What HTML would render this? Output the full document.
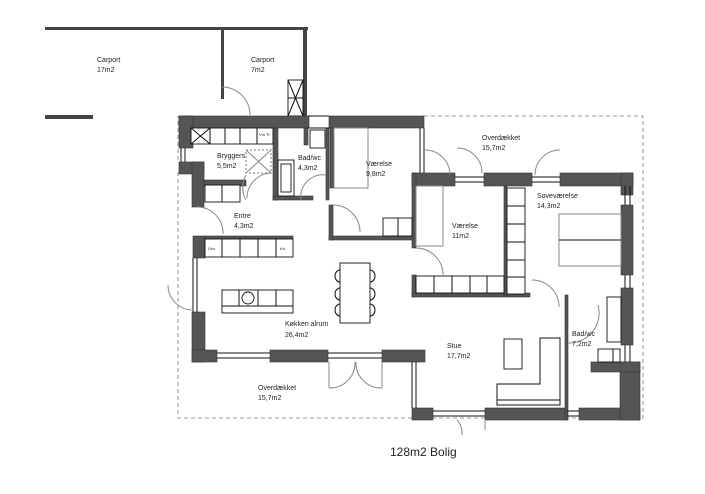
<!DOCTYPE html>
<html><head><meta charset="utf-8"><style>
html,body{margin:0;padding:0;background:#fff;width:705px;height:494px;overflow:hidden}
svg{display:block}
text{font-family:"Liberation Sans",sans-serif;font-size:7px;fill:#222}
.w{fill:#555;stroke:#333;stroke-width:.6}
.l{stroke:#111;stroke-width:1;fill:none}
.g{stroke:#888;stroke-width:1;fill:none}
.d{stroke:#777;stroke-width:.8;fill:none;stroke-dasharray:4,3}
.c{fill:#fff;stroke:#111;stroke-width:.9}
</style></head><body>
<svg width="705" height="494" viewBox="0 0 705 494">
<rect x="45" y="27" width="180" height="3" fill="#444"/>
<rect x="222" y="27" width="86" height="3" fill="#444"/>
<rect x="221" y="27" width="3" height="72" fill="#444"/>
<rect x="303" y="27" width="4" height="89" fill="#444"/>
<rect x="45" y="115" width="48" height="4" fill="#444"/>
<path class="g" d="M222 87 A28 28 0 0 1 250 115"/>
<rect x="288" y="80" width="15" height="36" class="c"/>
<path class="l" d="M288 80 L303 116 M303 80 L288 116 M288 98 H303"/>
<text x="97" y="62">Carport</text><text x="97" y="72">17m2</text>
<text x="251" y="62">Carport</text><text x="251" y="72">7m2</text>
<path class="d" d="M424 116 H643 V418 H433 M412 418 H178 V170"/>
<path class="d" d="M178 160 V116"/>
<rect class="w" x="179" y="116" width="130" height="12"/>
<rect class="w" x="329" y="116" width="95" height="12"/>
<rect class="w" x="179" y="116" width="14" height="32"/>
<rect class="w" x="179" y="162" width="25" height="12"/>
<rect class="w" x="192" y="162" width="12" height="45"/>
<rect class="w" x="204" y="180" width="42" height="6"/>
<rect class="w" x="193" y="236" width="12" height="22"/>
<rect class="w" x="205" y="236" width="88" height="3"/>
<rect class="w" x="192" y="312" width="13" height="50"/>
<rect class="w" x="192" y="350" width="25" height="12"/>
<rect class="w" x="270" y="350" width="58" height="12"/>
<rect class="w" x="382" y="350" width="43" height="12"/>
<rect class="w" x="412" y="408" width="21" height="12"/>
<rect class="w" x="485" y="408" width="82" height="12"/>
<rect class="w" x="579" y="408" width="61" height="12"/>
<rect class="w" x="620" y="362" width="20" height="58"/>
<rect class="w" x="591" y="362" width="49" height="10"/>
<rect class="w" x="565" y="295" width="3" height="125"/>
<rect class="w" x="621" y="288" width="12" height="57"/>
<rect class="w" x="621" y="205" width="12" height="70"/>
<rect class="w" x="560" y="173" width="73" height="13"/>
<rect class="w" x="621" y="173" width="12" height="22"/>
<rect class="w" x="484" y="173" width="48" height="13"/>
<rect class="w" x="412" y="173" width="43" height="13"/>
<rect class="w" x="412" y="173" width="4" height="75"/>
<rect class="w" x="412" y="275" width="4" height="22"/>
<rect class="w" x="412" y="293" width="118" height="4"/>
<rect class="w" x="504" y="186" width="3" height="110"/>
<rect class="w" x="330" y="128" width="4" height="60"/>
<rect class="w" x="329" y="236" width="84" height="4"/>
<rect class="w" x="329" y="205" width="4" height="35"/>
<rect class="w" x="273" y="128" width="5" height="72"/>
<rect class="w" x="273" y="196" width="40" height="4"/>
<rect class="w" x="326" y="128" width="3" height="72"/>
<rect class="w" x="304" y="128" width="4" height="17"/>
<path class="l" d="M181 148 V162 M185 148 V162 M193 258 V312 M197 258 V312 M217 353 H270 M217 358 H270 M328 353 H382 M328 358 H382 M412 362 V408 M416 362 V408 M433 411 H485 M433 416 H485 M567 411 H579 M567 416 H579 M625 186 V205 M630 186 V205 M625 275 V288 M630 275 V288 M625 345 V362 M630 345 V362 M455 177 H484 M455 182 H484 M532 177 H560 M532 182 H560 M420 128 V173 M424 128 V173"/>
<path class="l" d="M308 116 H329 M308 128 H329"/>
<rect x="310" y="130" width="15" height="18" class="c"/>
<rect x="191" y="128" width="82" height="16" class="c"/>
<path class="l" d="M210 128 V144 M225 128 V144 M240 128 V144 M257 128 V144 M191 128 L210 144 M210 128 L191 144"/>
<text x="259" y="136" style="font-size:4px">Vm Tt</text>
<rect x="246" y="150" width="25" height="23" fill="none" stroke="#777" stroke-dasharray="2,2"/>
<path class="g" d="M246 150 L271 173 M271 150 L246 173"/>
<rect x="205" y="185" width="35" height="17" class="c"/><path class="l" d="M222 185 V202"/>
<rect x="205" y="239" width="88" height="18" class="c"/>
<path class="l" d="M222 239 V257 M240 239 V257 M258 239 V257 M276 239 V257"/>
<text x="208" y="250" style="font-size:4px">Ovn</text><text x="280" y="250" style="font-size:4px">Kd</text>
<rect x="222" y="290" width="71" height="23" class="c"/>
<path class="l" d="M222 306 H293 M239 290 V306 M258 290 V306 M276 290 V306"/>
<circle cx="248" cy="298" r="6" class="c"/>
<rect x="340" y="263" width="30" height="60" class="c"/>
<path class="l" d="M340 270 a5 6 0 0 0 0 12 M340 288 a5 6 0 0 0 0 12 M340 304 a5 6 0 0 0 0 12 M370 270 a5 6 0 0 1 0 12 M370 288 a5 6 0 0 1 0 12 M370 304 a5 6 0 0 1 0 12"/>
<rect x="278" y="160" width="16" height="36" class="c"/><rect x="281" y="164" width="10" height="28" class="c"/>
<rect x="334" y="128" width="34" height="60" fill="none" stroke="#888"/>
<rect x="416" y="186" width="27" height="60" fill="none" stroke="#888"/>
<rect x="383" y="218" width="29" height="18" class="c"/><path class="l" d="M398 218 V236"/>
<rect x="416" y="276" width="88" height="17" class="c"/>
<path class="l" d="M434 276 V293 M452 276 V293 M470 276 V293 M487 276 V293"/>
<rect x="507" y="188" width="18" height="106" class="c"/>
<path class="l" d="M507 206 H525 M507 224 H525 M507 242 H525 M507 260 H525 M507 277 H525"/>
<rect x="559" y="214" width="62" height="52" fill="none" stroke="#888"/>
<path class="l" d="M559 240 H621"/>
<rect x="607" y="297" width="14" height="45" class="c"/>
<rect x="598" y="349" width="22" height="13" class="c"/><path class="l" d="M613 349 V362"/>
<rect x="504" y="339" width="18" height="30" class="c"/>
<path class="l" d="M540 338 H560 V405 H497 V384 H540 Z M497 400 H560"/>
<path class="g" d="M246 175 A25 25 0 0 0 246 200 M247 198 A25 25 0 0 1 272 173 M301 200 A22 22 0 0 1 326 175 M333 205 A27 27 0 0 1 360 232 M197 207 A26 26 0 0 1 223 234 M416 248 A27 27 0 0 1 443 275 M532 280 A27 27 0 0 1 559 307 M568 343 A30 30 0 0 0 598 305 M425 150 A25 25 0 0 1 450 175 M457 148 A25 25 0 0 1 482 173 M535 175 A25 25 0 0 1 560 150 M168 285 A25 25 0 0 0 193 310 M329 362 L329 388 M329 388 A25 25 0 0 0 355 362 M382 362 V388 M382 388 A25 25 0 0 1 356 362 M457 420 A20 20 0 0 1 462 435 M485 420 V430"/>
<text x="217" y="158">Bryggers</text><text x="217" y="168">5,5m2</text>
<text x="298" y="160">Bad/wc</text><text x="298" y="170">4,3m2</text>
<text x="366" y="166">Værelse</text><text x="366" y="176">9,8m2</text>
<text x="234" y="218">Entre</text><text x="234" y="228">4,3m2</text>
<text x="482" y="140">Overdækket</text><text x="482" y="150">15,7m2</text>
<text x="537" y="198">Soveværelse</text><text x="537" y="208">14,3m2</text>
<text x="452" y="228">Værelse</text><text x="452" y="238">11m2</text>
<text x="285" y="326">Køkken alrum</text><text x="285" y="337">26,4m2</text>
<text x="447" y="348">Stue</text><text x="447" y="358">17,7m2</text>
<text x="572" y="336">Bad/wc</text><text x="572" y="346">7,2m2</text>
<text x="258" y="390">Overdækket</text><text x="258" y="400">15,7m2</text>
<text x="390" y="456" style="font-size:12px">128m2 Bolig</text>
</svg>
</body></html>
